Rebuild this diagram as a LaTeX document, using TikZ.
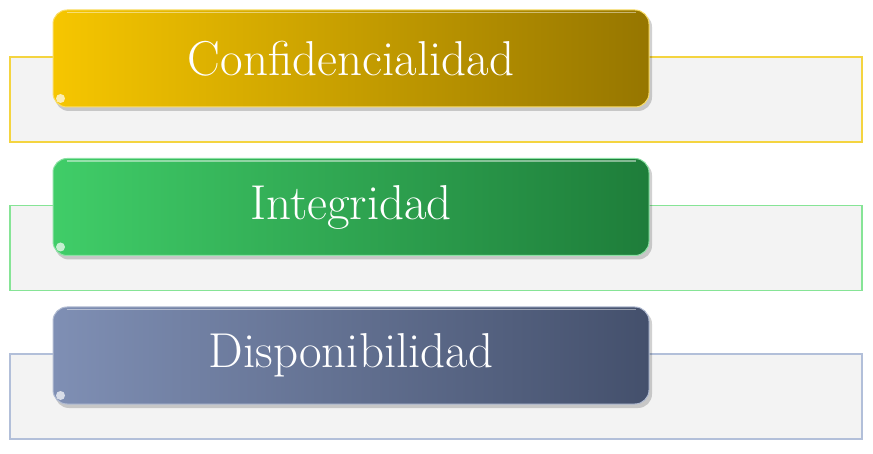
\documentclass[tikz,border=0pt]{standalone}
\usepackage{tikz}
\usetikzlibrary{positioning,calc}
\definecolor{cGoldL}{HTML}{F6C600}
\definecolor{cGoldR}{HTML}{967600}
\definecolor{cGoldE}{HTML}{F4D440}
\definecolor{cGreenL}{HTML}{40CD68}
\definecolor{cGreenR}{HTML}{1E7D3A}
\definecolor{cGreenE}{HTML}{86E496}
\definecolor{cSlateL}{HTML}{7F8FB4}
\definecolor{cSlateR}{HTML}{44506C}
\definecolor{cSlateE}{HTML}{B2BFD9}
\definecolor{cPanel}{HTML}{F3F3F3}
\tikzset{
  % Pale panel behind each heading.
  cia/panel/.style={
    fill=cPanel, line width=1.4pt, minimum width=852pt, minimum height=85pt,
    inner sep=0pt
  },
  % Glossy heading button.
  cia/button/.style={
    rounded corners=14pt, minimum width=596pt, minimum height=97pt,
    inner sep=0pt, line width=1pt, text=white,
    font=\fontsize{49}{52}\selectfont
  },
  % Soft shadow under the button.
  cia/shade/.style={
    fill=black, opacity=0.18, rounded corners=14pt
  },
}
\begin{document}
\begin{tikzpicture}[x=1pt,y=-1pt]
  \useasboundingbox (0,0) rectangle (873,454);
  \foreach \i/\lc/\rc/\ec/\txt [count=\n from 0] in
      {conf/cGoldL/cGoldR/cGoldE/Confidencialidad,
       integ/cGreenL/cGreenR/cGreenE/Integridad,
       disp/cSlateL/cSlateR/cSlateE/Disponibilidad}{
    \node[cia/panel, draw=\ec] (panel-\i) at (436,99.5+\n*148.5) {};
    \fill[cia/shade] (55,13+\n*148.5) rectangle (652,111+\n*148.5);
    \node[cia/button, left color=\lc, right color=\rc, draw=\lc!60!white]
      (btn-\i) at (351,58.5+\n*148.5) {\txt};
    \draw[white, opacity=0.45, line width=1.2pt]
      ($(btn-\i.north west)+(14,3)$) -- ($(btn-\i.north east)+(-14,3)$);
    \fill[white, opacity=0.7] ($(btn-\i.south west)+(8,-9)$) circle (4.5pt);
  }
\end{tikzpicture}
\end{document}
